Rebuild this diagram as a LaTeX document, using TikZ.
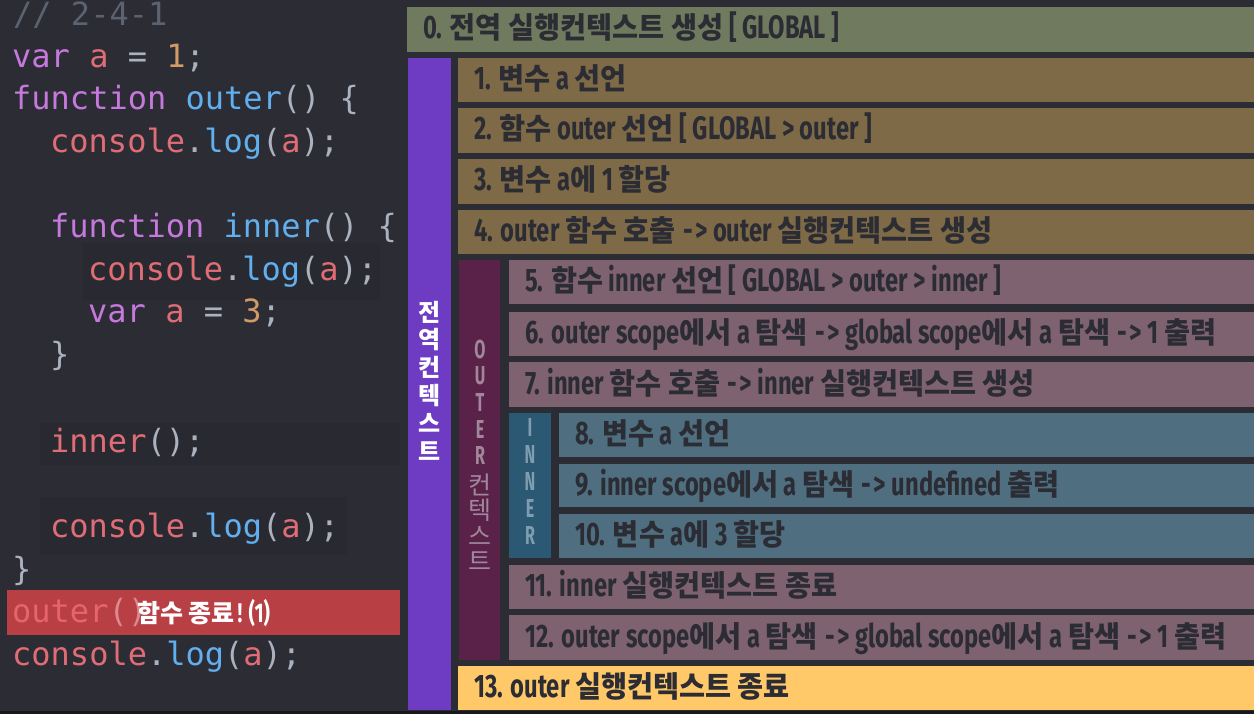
\documentclass[tikz,border=0pt]{standalone}
\usepackage{fontspec}
\usetikzlibrary{calc}
\setmainfont{Fira Sans}
\newfontfamily\kof{Noto Sans CJK KR}[FakeStretch=0.96]
\newfontfamily\kvf{Noto Sans CJK KR}
\newfontfamily\latf{Fira Sans}[FakeStretch=0.73]
\newfontfamily\vlatf{Fira Sans}[FakeStretch=0.62]
\newfontfamily\codef{DejaVu Sans Mono}
\newcommand\ko[1]{{\kof\bfseries\fontsize{29.5}{29.5}\selectfont #1}}
\newcommand\arr{\kern1.5pt-\kern2.5pt>}
\definecolor{bgc}{HTML}{2B2C34}
\definecolor{shadec}{HTML}{292A31}
\definecolor{stripc}{HTML}{17181C}
\definecolor{olivec}{HTML}{6F7A5E}
\definecolor{brownc}{HTML}{7E6A46}
\definecolor{mauvec}{HTML}{7E6270}
\definecolor{tealc}{HTML}{4F6F80}
\definecolor{yellowc}{HTML}{FFC96A}
\definecolor{purplec}{HTML}{6E3CC3}
\definecolor{outerc}{HTML}{5A2249}
\definecolor{innerc}{HTML}{2B5873}
\definecolor{txtc}{HTML}{2B2C34}
\definecolor{outlabc}{HTML}{A0879A}
\definecolor{inlabc}{HTML}{7F9DB0}
\definecolor{redbarc}{HTML}{B83F44}
\definecolor{cmc}{HTML}{5C6370}
\definecolor{kwc}{HTML}{C678DD}
\definecolor{vrc}{HTML}{E06C75}
\definecolor{nmc}{HTML}{D19A66}
\definecolor{fnc}{HTML}{61AFEF}
\definecolor{pnc}{HTML}{ABB2BF}
\definecolor{onredc}{HTML}{E8646C}
\definecolor{onredpc}{HTML}{DC8A8E}
\newcommand\kw[1]{\textcolor{kwc}{#1}}
\newcommand\vr[1]{\textcolor{vrc}{#1}}
\newcommand\nm[1]{\textcolor{nmc}{#1}}
\newcommand\fn[1]{\textcolor{fnc}{#1}}
\tikzset{
  boxst/.style={draw=none, inner sep=0pt, outer sep=0pt, anchor=north west},
  lbl/.style={anchor=base west, inner sep=0pt, text=txtc, font=\latf\bfseries\fontsize{32.5}{32.5}\selectfont},
  code/.style={anchor=base west, inner sep=0pt, text=pnc, font=\codef\fontsize{32}{32}\selectfont},
  vglob/.style={inner sep=0pt, text=white, font=\kvf\bfseries\fontsize{24}{24}\selectfont},
  vout/.style={inner sep=0pt, text=outlabc, font=\vlatf\bfseries\fontsize{26}{26}\selectfont},
  voutk/.style={inner sep=0pt, text=outlabc, font=\kvf\fontsize{25}{25}\selectfont},
  vin/.style={inner sep=0pt, text=inlabc, font=\vlatf\bfseries\fontsize{26}{26}\selectfont},
}
\newcommand\lab[3]{\node[lbl] (#1) at ($(#2.west)+(16,9.5)$) {#3};}
\begin{document}
\begin{tikzpicture}[x=1pt,y=-1pt]
\useasboundingbox (0,0) rectangle (1254,714);
\fill[bgc] (0,0) rectangle (1254,714);
% faint highlight blocks behind code
\fill[shadec] (82,243) rectangle (380,300);
\fill[shadec] (40,423) rectangle (400,465);
\fill[shadec] (40,497) rectangle (347,555);
\fill[stripc] (0,711) rectangle (1254,714);

% ---------- code ----------
\node[code] (c0) at (13,26) {\textcolor{cmc}{// 2-4-1}};
\node[code] (c1) at (12,68) {\kw{var} \vr{a} = \nm{1};};
\node[code] (c2) at (12,110) {\kw{function} \fn{outer}() \{};
\node[code] (c3) at (50,153) {\vr{console}.\fn{log}(\vr{a});};
\node[code] (c5) at (50,238) {\kw{function} \fn{inner}() \{};
\node[code] (c6) at (88,281) {\vr{console}.\fn{log}(\vr{a});};
\node[code] (c7) at (88,323) {\kw{var} \vr{a} = \nm{3};};
\node[code] (c8) at (50,366) {\}};
\node[code] (c10) at (50,452) {\vr{inner}();};
\node[code] (c12) at (50,537) {\vr{console}.\fn{log}(\vr{a});};
\node[code] (c13) at (12,580) {\}};
\node[boxst, fill=redbarc, minimum width=393pt, minimum height=45pt] (redbar) at (7,590) {};
\node[code] (c14) at (12,622) {\textcolor{onredc}{outer}\textcolor{onredpc}{()}};
\node[anchor=base west, inner sep=0pt, text=white] (endmsg) at (137,622)
  {{\kvf\bfseries\fontsize{25}{25}\selectfont 함수 종료} {\latf\bfseries\fontsize{27}{27}\selectfont ! (1)}};
\node[code] (c15) at (12,665) {\vr{console}.\fn{log}(\vr{a});};

% ---------- boxes ----------
\node[boxst, fill=olivec, minimum width=847pt, minimum height=45pt] (b0) at (407,7) {};
\node[boxst, fill=purplec, minimum width=43pt, minimum height=652pt] (gbar) at (408,58) {};
\node[boxst, fill=brownc, minimum width=796pt, minimum height=44pt] (b1) at (458,58) {};
\node[boxst, fill=brownc, minimum width=796pt, minimum height=45pt] (b2) at (458,108) {};
\node[boxst, fill=brownc, minimum width=796pt, minimum height=45pt] (b3) at (458,159) {};
\node[boxst, fill=brownc, minimum width=796pt, minimum height=44pt] (b4) at (458,210) {};
\node[boxst, fill=outerc, minimum width=41pt, minimum height=400pt] (obar) at (459,260) {};
\node[boxst, fill=mauvec, minimum width=745pt, minimum height=44pt] (b5) at (509,260) {};
\node[boxst, fill=mauvec, minimum width=745pt, minimum height=44pt] (b6) at (509,312) {};
\node[boxst, fill=mauvec, minimum width=745pt, minimum height=45pt] (b7) at (509,362) {};
\node[boxst, fill=innerc, minimum width=42pt, minimum height=145pt] (ibar) at (509,413) {};
\node[boxst, fill=tealc, minimum width=695pt, minimum height=44pt] (b8) at (559,413) {};
\node[boxst, fill=tealc, minimum width=695pt, minimum height=43pt] (b9) at (559,464) {};
\node[boxst, fill=tealc, minimum width=695pt, minimum height=44pt] (b10) at (559,514) {};
\node[boxst, fill=mauvec, minimum width=745pt, minimum height=44pt] (b11) at (509,565) {};
\node[boxst, fill=mauvec, minimum width=745pt, minimum height=45pt] (b12) at (509,615) {};
\node[boxst, fill=yellowc, minimum width=796pt, minimum height=44pt] (b13) at (458,666) {};

% ---------- box labels ----------
\lab{t0}{b0}{0. \ko{전역 실행컨텍스트 생성} [ GLOBAL ]}
\lab{t1}{b1}{1. \ko{변수} a \ko{선언}}
\lab{t2}{b2}{2. \ko{함수} outer \ko{선언} [ GLOBAL > outer ]}
\lab{t3}{b3}{3. \ko{변수} a\ko{에} 1 \ko{할당}}
\lab{t4}{b4}{4. outer \ko{함수 호출} \arr{} outer \ko{실행컨텍스트 생성}}
\lab{t5}{b5}{5. \ko{함수} inner \ko{선언} [ GLOBAL > outer > inner ]}
\lab{t6}{b6}{6. outer scope\ko{에서} a \ko{탐색} \arr{} global scope\ko{에서} a \ko{탐색} \arr{} 1 \ko{출력}}
\lab{t7}{b7}{7. inner \ko{함수 호출} \arr{} inner \ko{실행컨텍스트 생성}}
\lab{t8}{b8}{8. \ko{변수} a \ko{선언}}
\lab{t9}{b9}{9. inner scope\ko{에서} a \ko{탐색} \arr{} undefined \ko{출력}}
\lab{t10}{b10}{10. \ko{변수} a\ko{에} 3 \ko{할당}}
\lab{t11}{b11}{11. inner \ko{실행컨텍스트 종료}}
\lab{t12}{b12}{12. outer scope\ko{에서} a \ko{탐색} \arr{} global scope\ko{에서} a \ko{탐색} \arr{} 1 \ko{출력}}
\lab{t13}{b13}{13. outer \ko{실행컨텍스트 종료}}

% ---------- vertical labels ----------
\foreach \c [count=\i from 0] in {전,역,컨,텍,스,트}
  \node[vglob] (g\i) at (430,{312+27.8*\i}) {\c};
\foreach \c [count=\i from 0] in {O,U,T,E,R}
  \node[vout] (o\i) at (480,{349+26.7*\i}) {\c};
\foreach \c [count=\i from 0] in {컨,텍,스,트}
  \node[voutk] (ok\i) at (480,{485+25.3*\i}) {\c};
\foreach \c [count=\i from 0] in {I,N,N,E,R}
  \node[vin] (n\i) at (530,{427+27.2*\i}) {\c};
\end{tikzpicture}
\end{document}
